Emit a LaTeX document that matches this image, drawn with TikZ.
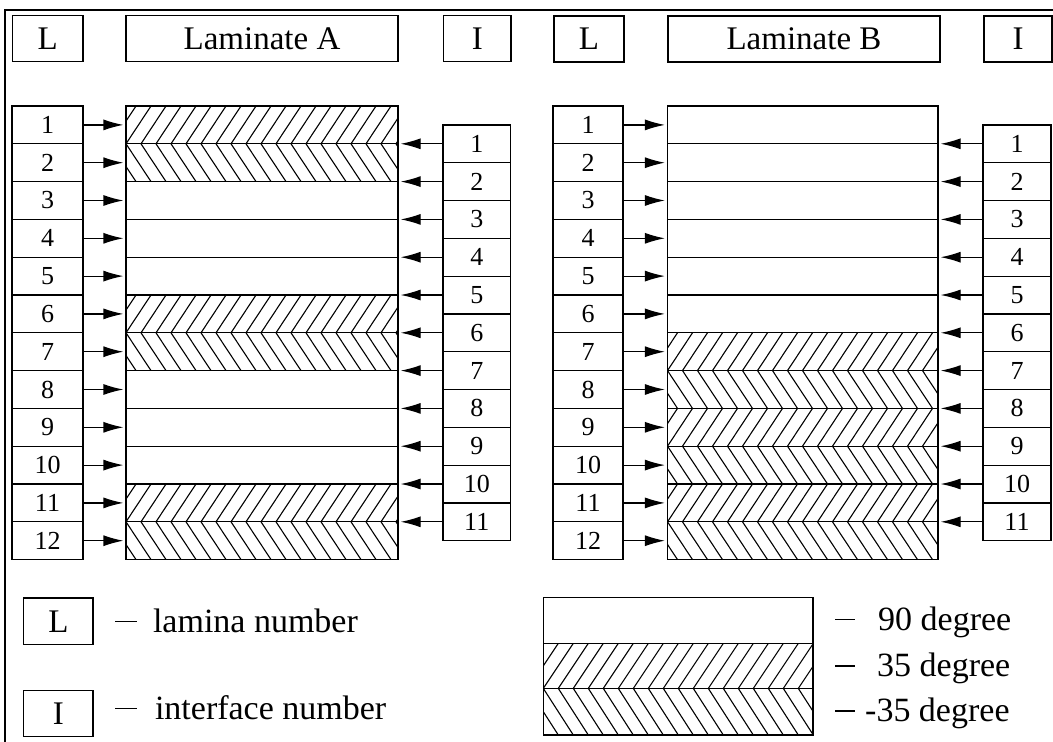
\documentclass[tikz,border=0pt]{standalone}
\usepackage{fontspec}
\setmainfont{Liberation Serif}
\usetikzlibrary{arrows.meta}
\tikzset{
  numbox/.style={draw, line width=1.2pt, inner sep=0pt, minimum height=37.8pt, font=\fontsize{26}{30}\selectfont},
  hbox/.style={draw, line width=1.2pt, inner sep=0pt, minimum height=46pt, font=\fontsize{33}{38}\selectfont},
  arr/.style={line width=1.2pt, -{Latex[length=20pt,width=11pt]}, shorten >=2pt},
  hatch/.style={line width=1.1pt},
  layer/.style={line width=1.2pt},
  legtext/.style={font=\fontsize{34}{40}\selectfont, inner sep=0pt},
}
% #1 x-left, #2 x-right, #3 y-top, #4 y-bottom, #5 horizontal run of one line
\newcommand\hatchfwd[5]{%
  \begin{scope}
    \clip ({#1},{#3}) rectangle ({#2},{#4});
    \foreach \hk in {0,...,24} {%
      \pgfmathsetmacro\hxa{#1-45+15*\hk}%
      \pgfmathsetmacro\hxb{\hxa+#5}%
      \draw[hatch] (\hxa,{#4}) -- (\hxb,{#3});
    }
  \end{scope}}
\newcommand\hatchbwd[5]{%
  \begin{scope}
    \clip ({#1},{#3}) rectangle ({#2},{#4});
    \foreach \hk in {0,...,24} {%
      \pgfmathsetmacro\hxa{#1-45+15*\hk}%
      \pgfmathsetmacro\hxb{\hxa+#5}%
      \draw[hatch] (\hxa,{#3}) -- (\hxb,{#4});
    }
  \end{scope}}
\begin{document}
\begin{tikzpicture}[x=1pt,y=-1pt]
\useasboundingbox (0,0) rectangle (1053,742);
\draw[line width=1.3pt] (5,742) -- (5,10) -- (1053,10);

% headers
\node[hbox, minimum width=70.5pt] (AHL) at (47.75,38.5) {L};
\node[hbox, minimum width=272pt] (AHT) at (262,38.5) {Laminate A};
\node[hbox, minimum width=67.5pt] (AHI) at (477.25,38.5) {I};
\node[hbox, minimum width=70pt] (BHL) at (589,39) {L};
\node[hbox, minimum width=272pt] (BHT) at (804,39) {Laminate B};
\node[hbox, minimum width=68pt] (BHI) at (1018,39) {I};

% Laminate A
\hatchfwd{126}{398}{106}{143.8}{25}
\hatchbwd{126}{398}{143.8}{181.6}{25}
\hatchfwd{126}{398}{295}{332.8}{25}
\hatchbwd{126}{398}{332.8}{370.6}{25}
\hatchfwd{126}{398}{484}{521.8}{25}
\hatchbwd{126}{398}{521.8}{559.6}{25}
\node[draw, layer, inner sep=0pt, minimum width=272pt, minimum height=453.6pt] (RA) at (262,332.8) {};
\foreach \i in {1,...,11} \draw[layer] (126,{106+37.8*\i}) -- (398,{106+37.8*\i});
\foreach \i in {1,...,12} \node[numbox, minimum width=71pt] (AL\i) at (47.5,{106+37.8*(\i-0.5)}) {\i};
\foreach \i in {1,...,11} \node[numbox, minimum width=67.5pt] (AI\i) at (476.75,{106+37.8*\i}) {\i};
\foreach \i in {1,...,12} \draw[arr] (AL\i.east) -- (AL\i.east -| RA.west);
\foreach \i in {1,...,11} \draw[arr] (AI\i.west) -- (AI\i.west -| RA.east);

% Laminate B
\hatchfwd{667.5}{938}{332.8}{370.6}{25}
\hatchbwd{667.5}{938}{370.6}{408.4}{25}
\hatchfwd{667.5}{938}{408.4}{446.2}{25}
\hatchbwd{667.5}{938}{446.2}{484}{25}
\hatchfwd{667.5}{938}{484}{521.8}{25}
\hatchbwd{667.5}{938}{521.8}{559.6}{25}
\node[draw, layer, inner sep=0pt, minimum width=270.5pt, minimum height=453.6pt] (RB) at (802.75,332.8) {};
\foreach \i in {1,...,11} \draw[layer] (667.5,{106+37.8*\i}) -- (938,{106+37.8*\i});
\foreach \i in {1,...,12} \node[numbox, minimum width=70pt] (BL\i) at (588,{106+37.8*(\i-0.5)}) {\i};
\foreach \i in {1,...,11} \node[numbox, minimum width=68pt] (BI\i) at (1017,{106+37.8*\i}) {\i};
\foreach \i in {1,...,12} \draw[arr] (BL\i.east) -- (BL\i.east -| RB.west);
\foreach \i in {1,...,11} \draw[arr] (BI\i.west) -- (BI\i.west -| RB.east);

% legend left
\node[hbox, minimum width=69.3pt, minimum height=46.4pt] (LL) at (58.35,621.2) {L};
\node[hbox, minimum width=69.3pt, minimum height=46.4pt] (LI) at (58.35,713.35) {I};
\node[legtext, anchor=base west] (LLt) at (115,632.5) {\rule[0.3em]{22pt}{1.3pt}\hspace{15.8pt}lamina number};
\node[legtext, anchor=base west] (LIt) at (115,719) {\rule[0.3em]{22pt}{1.3pt}\hspace{17.8pt}interface number};

% legend right
\hatchfwd{543.3}{813}{643.4}{688.4}{30}
\hatchbwd{543.3}{813}{688.4}{735}{30}
\node[draw, layer, inner sep=0pt, minimum width=269.7pt, minimum height=137.3pt] (LR) at (678.15,666.35) {};
\draw[layer] (543.3,643.4) -- (813,643.4);
\draw[layer] (543.3,688.4) -- (813,688.4);
\node[legtext, anchor=base west] (T90) at (835,630) {\rule[0.3em]{20pt}{1.3pt}\hspace{23pt}90 degree};
\node[legtext, anchor=base west] (T35) at (835,676.7) {\rule[0.3em]{20pt}{1.3pt}\hspace{22pt}35 degree};
\node[legtext, anchor=base west] (Tm35) at (835,721.7) {\rule[0.3em]{20pt}{1.3pt}\hspace{10pt}-35 degree};
\end{tikzpicture}
\end{document}
